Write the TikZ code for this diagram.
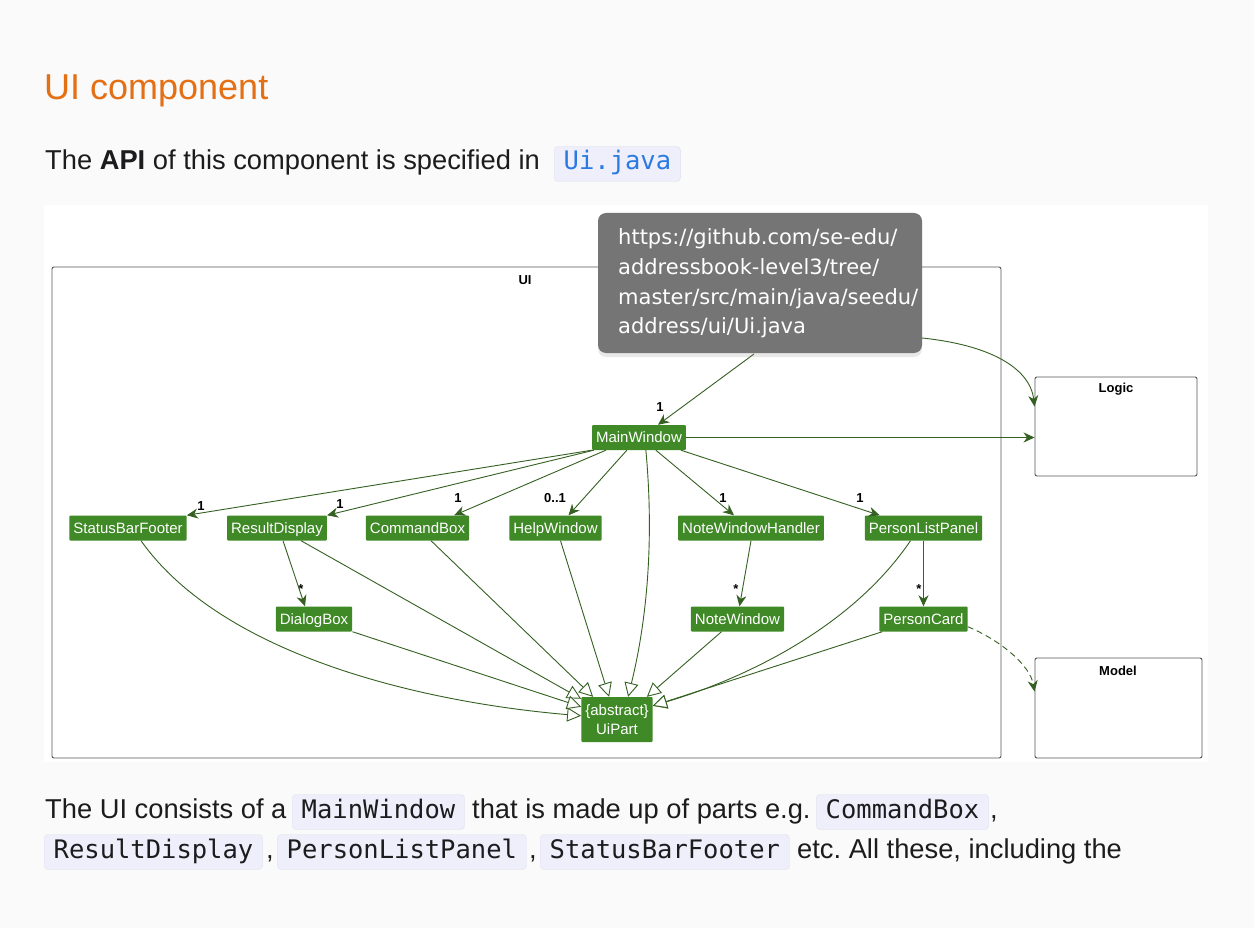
\documentclass[tikz,border=0pt]{standalone}
\usepackage{fontspec}
\setmainfont{Liberation Sans}
\setmonofont{DejaVu Sans Mono}
\newfontfamily\tipfont{DejaVu Sans}
\usetikzlibrary{arrows.meta,shadows}
\frenchspacing

\definecolor{pagebg}{RGB}{250,250,250}
\definecolor{headorange}{RGB}{228,112,22}
\definecolor{bodytext}{RGB}{28,28,30}
\definecolor{codebg}{RGB}{238,239,250}
\definecolor{codeborder}{RGB}{222,224,238}
\definecolor{codeblue}{RGB}{42,122,226}
\definecolor{umlgreen}{RGB}{63,137,38}
\definecolor{edgegreen}{RGB}{52,96,34}
\definecolor{framegray}{RGB}{85,85,85}
\definecolor{tipgray}{RGB}{117,117,117}

\begin{document}
\begin{tikzpicture}[x=1pt,y=-1pt,
  cls/.style={fill=umlgreen,text=white,font=\fontsize{15}{17}\selectfont,
    inner xsep=4pt,inner ysep=0pt,text height=11pt,text depth=0.5pt,
    minimum height=25pt,rounded corners=1pt},
  pkg/.style={draw=framegray,fill=white,rounded corners=2pt,line width=0.9pt},
  pkglabel/.style={font=\bfseries\fontsize{13}{15}\selectfont},
  mult/.style={font=\bfseries\fontsize{13}{15}\selectfont,inner sep=0pt},
  nav/.style={draw=edgegreen,line width=0.9pt,-{Stealth[length=11pt,width=10pt,inset=3.5pt]}},
  ext/.style={draw=edgegreen,line width=0.9pt,-{Triangle[open,length=14pt,width=14pt,fill=white]}},
  body/.style={anchor=base west,inner sep=0pt,text=bodytext,font=\fontsize{27.3}{32}\selectfont},
  codebox/.style={anchor=base west,fill=codebg,draw=codeborder,rounded corners=4pt,
    text=bodytext,font=\ttfamily\fontsize{25.5}{30}\selectfont,
    text height=18pt,text depth=6pt,inner xsep=9.5pt,inner ysep=5.5pt},
  tiptxt/.style={anchor=base west,inner sep=0pt,text=white,font=\tipfont\fontsize{21}{25}\selectfont},
]

% page
\fill[pagebg] (0,0) rectangle (1254,928);
\useasboundingbox (0,0) rectangle (1254,928);

% heading and first line
\node[anchor=base west,inner sep=0pt,text=headorange,font=\fontsize{36}{40}\selectfont] (heading) at (44,100) {UI component};
\node[body] (apiline) at (45,170) {The \textbf{API} of this component is specified in};
\node[codebox,text=codeblue] (uijava) at (554,170) {Ui.java};

% diagram area
\fill[white] (44,205) rectangle (1208,762);
\draw[pkg] (52,267) rectangle (1001,758);
\node[pkglabel] (uilabel) at (525,280) {UI};
\node[pkg,minimum width=162pt,minimum height=99pt] (logic) at (1116,426.5) {};
\node[pkglabel] (logiclabel) at (1116,389) {Logic};
\node[pkg,minimum width=167pt,minimum height=100pt] (model) at (1118.5,708) {};
\node[pkglabel] (modellabel) at (1118,671) {Model};

% classes
\node[cls] (mainwin) at (639,437.5) {MainWindow};
\node[cls] (statusbar) at (128,528) {StatusBarFooter};
\node[cls] (resultdisp) at (277,528) {ResultDisplay};
\node[cls] (cmdbox) at (417.5,528) {CommandBox};
\node[cls] (helpwin) at (555.5,528) {HelpWindow};
\node[cls] (notehandler) at (751,528) {NoteWindowHandler};
\node[cls] (personlist) at (923.5,528) {PersonListPanel};
\node[cls] (dialogbox) at (314,619) {DialogBox};
\node[cls] (notewin) at (737.5,619) {NoteWindow};
\node[cls] (personcard) at (923.5,619) {PersonCard};
\node[cls,align=center,minimum height=45pt,text height=,text depth=,inner ysep=4pt,
  font=\fontsize{15}{19}\selectfont] (uipart) at (617,719.5) {\{abstract\}\\UiPart};

% MainWindow -> parts
\draw[nav] (mainwin.south west) -- (statusbar.north east);
\draw[nav] ([xshift=2pt]mainwin.south west) -- (resultdisp.north east);
\draw[nav] ([xshift=14pt]mainwin.south west) -- ([xshift=-15pt]cmdbox.north east);
\draw[nav] ([xshift=35pt]mainwin.south west) -- ([xshift=13pt]helpwin.north);
\draw[nav] ([xshift=64pt]mainwin.south west) -- ([xshift=-17pt]notehandler.north);
\draw[nav] ([xshift=89pt]mainwin.south west) -- ([xshift=15pt]personlist.north west);
\draw[nav] (mainwin.east) -- (mainwin.east -| logic.west);

% multiplicities
\node[mult] (m1) at (201,506) {1};
\node[mult] (m2) at (340,504) {1};
\node[mult] (m3) at (458,498) {1};
\node[mult] (m4) at (555,498) {0..1};
\node[mult] (m5) at (723,498) {1};
\node[mult] (m6) at (860,498) {1};
\node[mult] (m7) at (660,407) {1};
\node[mult] (s1) at (301,589) {*};
\node[mult] (s2) at (736,589) {*};
\node[mult] (s3) at (919,589) {*};

% second level
\draw[nav] ([xshift=6pt]resultdisp.south) -- ([xshift=-9pt]dialogbox.north);
\draw[nav] (notehandler.south) -- ([xshift=2pt]notewin.north);
\draw[nav] (personlist.south) -- (personcard.north);

% inheritance
\draw[ext] ([xshift=13pt]statusbar.south) .. controls (222,655) and (420,702) .. ([yshift=-19pt]uipart.north west);
\draw[ext] ([xshift=24pt]resultdisp.south) -- ([yshift=-2pt]uipart.north west);
\draw[ext] (dialogbox.south east) -- ([yshift=-10pt]uipart.north west);
\draw[ext] ([xshift=13.5pt]cmdbox.south) -- ([xshift=12pt]uipart.north west);
\draw[ext] ([xshift=5pt]helpwin.south) -- ([xshift=28pt]uipart.north west);
\draw[ext] ([xshift=54pt]mainwin.south west) .. controls (656,560) and (642,640) .. ([xshift=47pt]uipart.north west);
\draw[ext] ([xshift=-16pt]notewin.south) -- ([xshift=-6pt]uipart.north east);
\draw[ext] ([xshift=-13pt]personlist.south) .. controls (850,630) and (740,680) .. ([yshift=-9pt]uipart.north east);
\draw[ext] ([xshift=3pt]personcard.south west) -- ([yshift=-9pt]uipart.north east);

% PersonCard -> Model
\draw[nav,dash pattern=on 6pt off 4pt] ([yshift=5pt]personcard.south east) .. controls (1000,640) and (1030,665) .. ([yshift=-34pt]model.north west);

% edges from under the tooltip
\coordinate (tipfoot) at (754,354);
\coordinate (tipside) at (922,338);
\draw[nav] (tipfoot) -- ([xshift=19pt]mainwin.north);
\draw[nav] (tipside) .. controls (990,345) and (1030,368) .. ([yshift=-30pt]logic.north west);

% tooltip
\node[fill=tipgray,rounded corners=8pt,minimum width=324pt,minimum height=140pt,
  drop shadow={opacity=0.18,shadow xshift=0pt,shadow yshift=-4pt}] (tooltip) at (760,283) {};
\node[tiptxt] (tip1) at (618,245) {https://github.com/se-edu/};
\node[tiptxt] (tip2) at (618,274.7) {addressbook-level3/tree/};
\node[tiptxt] (tip3) at (618,304.4) {master/src/main/java/seedu/};
\node[tiptxt] (tip4) at (618,334) {address/ui/Ui.java};

% text below
\node[body] (ln1a) at (45,818) {The UI consists of a};
\node[codebox] (ln1b) at (292,818) {MainWindow};
\node[body] (ln1c) at (472,818) {that is made up of parts e.g.};
\node[codebox] (ln1d) at (816,818) {CommandBox};
\node[body] (ln1e) at (990,818) {,};
\node[codebox] (ln2a) at (44,858) {ResultDisplay};
\node[body] (ln2b) at (266,858) {,};
\node[codebox] (ln2c) at (277,858) {PersonListPanel};
\node[body] (ln2d) at (529,858) {,};
\node[codebox] (ln2e) at (540,858) {StatusBarFooter};
\node[body] (ln2f) at (797,858) {etc. All these, including the};

\end{tikzpicture}
\end{document}
